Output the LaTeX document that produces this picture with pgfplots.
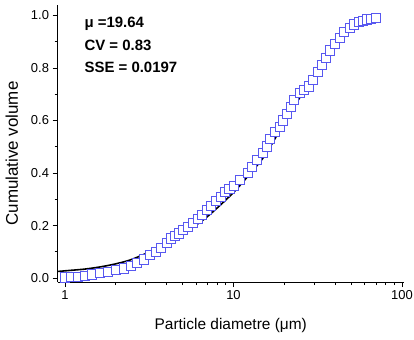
\documentclass[border=0pt]{standalone}
\usepackage{pgfplots}
\pgfplotsset{compat=1.18}
\usepackage{fontspec}
\setmainfont{Liberation Sans}

\definecolor{sqblue}{RGB}{88,88,240}

\begin{document}
\begin{tikzpicture}
\begin{axis}[
  set layers,
  scale only axis,
  width=346.5bp, height=277bp,
  xmode=log,
  xmin=0.903, xmax=102.8,
  ymin=-0.015, ymax=1.04,
  axis lines=left,
  axis line style={-, line width=0.8pt},
  tick align=outside,
  major tick length=5bp,
  minor tick length=3bp,
  tick style={line width=0.7pt, black},
  xtick={1,10,100},
  xticklabels={1,10,100},
  ytick={0,0.2,0.4,0.6,0.8,1.0},
  minor ytick={0.1,0.3,0.5,0.7,0.9},
  yticklabel style={/pgf/number format/fixed, /pgf/number format/fixed zerofill, /pgf/number format/precision=1},
  /pgf/number format/assume math mode=true,
  tick label style={font=\fontsize{13}{15}\selectfont},
  xlabel={Particle diametre (μm)},
  ylabel={Cumulative volume},
  xlabel style={font=\fontsize{15.5}{18}\selectfont, yshift=-12bp},
  ylabel style={font=\fontsize{17}{20}\selectfont, yshift=6bp, xshift=-10bp},
  clip=false,
]
% fitted cumulative curve
\addplot[black, line width=1.6pt, smooth, on layer=axis background] coordinates {
 (0.902,0.025) (1.063,0.029) (1.305,0.034) (1.602,0.042) (1.966,0.053)
 (2.414,0.068) (2.963,0.091) (3.637,0.118) (4.465,0.150) (5.481,0.185)
 (6.728,0.225) (8.26,0.275) (10.14,0.330) (12.45,0.395) (15.28,0.465)
 (18.75,0.560) (23.0,0.655) (28.3,0.745) (34.7,0.825) (42.6,0.900)
 (52.3,0.955) (64.1,0.985) (71.3,0.992)
};
% measured cumulative volume
\addplot[only marks, mark=square*, mark size=4.6bp, sqblue, mark options={line width=0.7pt, draw=sqblue, fill=white}, on layer=axis foreground] coordinates {
 (0.993,0.003) (1.088,0.004) (1.191,0.005) (1.318,0.008) (1.450,0.014)
 (1.602,0.020) (1.795,0.024) (1.994,0.030) (2.224,0.037) (2.448,0.047)
 (2.682,0.058) (2.936,0.071) (3.204,0.087) (3.477,0.100) (3.724,0.116)
 (4.004,0.134) (4.268,0.151) (4.465,0.160) (4.716,0.170) (5.003,0.183)
 (5.355,0.195) (5.734,0.211) (6.141,0.227) (6.521,0.240) (6.982,0.259)
 (7.374,0.274) (7.894,0.293) (8.373,0.310) (8.928,0.329) (9.45,0.340)
 (10.0,0.350) (10.96,0.373) (12.16,0.400) (12.91,0.425) (13.82,0.449)
 (14.93,0.477) (15.76,0.502) (16.36,0.531) (17.51,0.556) (18.75,0.575)
 (19.62,0.601) (20.83,0.626) (21.80,0.651) (22.80,0.679) (24.88,0.705)
 (26.3,0.718) (27.87,0.730) (29.56,0.756) (31.65,0.784) (33.60,0.813)
 (35.49,0.839) (37.49,0.867) (39.76,0.892) (42.57,0.915) (44.97,0.937)
 (48.80,0.952) (51.55,0.966) (55.19,0.975) (58.30,0.981) (61.55,0.985)
 (65.65,0.988) (70.29,0.990)
};
\node[anchor=west, font=\fontsize{15}{18}\selectfont\bfseries] at (rel axis cs:0.068,0.931) {μ =19.64};
\node[anchor=west, font=\fontsize{15}{18}\selectfont\bfseries] at (rel axis cs:0.068,0.856) {CV = 0.83};
\node[anchor=west, font=\fontsize{15}{18}\selectfont\bfseries] at (rel axis cs:0.068,0.776) {SSE = 0.0197};
\end{axis}
\pgfresetboundingbox
\path[use as bounding box] (current axis.south west) ++(-57.5bp,-58bp) rectangle ([shift={(10bp,5bp)}]current axis.north east);
\end{tikzpicture}
\end{document}
